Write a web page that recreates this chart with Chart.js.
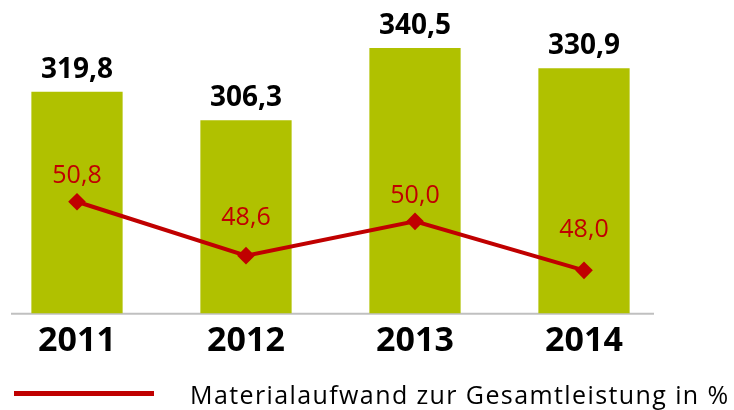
<!DOCTYPE html>
<html>
<head>
<meta charset="utf-8">
<script src="https://cdn.jsdelivr.net/npm/chart.js@4"></script>
<style>
  body { margin: 0; background: #fff; font-family: "Open Sans", sans-serif; }
  #wrap { position: relative; width: 734px; height: 410px; }
  #legend { position: absolute; left: 14px; top: 377px; height: 34px; display: flex; align-items: center; }
  #legend .swatch { width: 140px; height: 5px; background: #c00000; margin-right: 36px; margin-top: -1px; }
  #legend .text { font-size: 25px; letter-spacing: 1.4px; color: #000; white-space: nowrap; }
</style>
</head>
<body>
<div id="wrap">
  <canvas id="chart" width="734" height="410"></canvas>
  <div id="legend"><div class="swatch"></div><div class="text" id="legendText"></div></div>
</div>
<script>
// data
var years = ["2011", "2012", "2013", "2014"];
var umsatz = [319.8, 306.3, 340.5, 330.9];
var materialQuote = [50.8, 48.6, 50.0, 48.0];
var lineLabel = "Materialaufwand zur Gesamtleistung in %";

document.getElementById("legendText").textContent = lineLabel;

function fmt(v) {
  return v.toFixed(1).replace(".", ",");
}

// grey base line, wider than the plot area
var baseLine = {
  id: "baseLine",
  beforeDatasetsDraw: function (chart) {
    var ctx = chart.ctx;
    var y = chart.chartArea.bottom + 0.5;
    ctx.save();
    ctx.strokeStyle = "#c0c0c0";
    ctx.lineWidth = 2;
    ctx.beginPath();
    ctx.moveTo(11, y);
    ctx.lineTo(654, y);
    ctx.stroke();
    ctx.restore();
  },
};

// value labels above bars and points
var valueLabels = {
  id: "valueLabels",
  afterDatasetsDraw: function (chart) {
    var ctx = chart.ctx;
    ctx.save();
    ctx.textAlign = "center";
    ctx.textBaseline = "alphabetic";

    var bars = chart.getDatasetMeta(1).data;
    ctx.font = "bold 28px 'Open Sans'";
    ctx.fillStyle = "#000";
    bars.forEach(function (bar, i) {
      ctx.fillText(fmt(umsatz[i]), bar.x, bar.y - 14);
    });

    var pts = chart.getDatasetMeta(0).data;
    var offs = [19, 31, 18, 33];
    ctx.font = "25px 'Open Sans'";
    ctx.fillStyle = "#c00000";
    pts.forEach(function (p, i) {
      ctx.fillText(fmt(materialQuote[i]), p.x, p.y - offs[i]);
    });
    ctx.restore();
  },
};

var ctx = document.getElementById("chart").getContext("2d");
var chart = new Chart(ctx, {
  data: {
    labels: years,
    datasets: [
      {
        type: "line",
        label: lineLabel,
        data: materialQuote,
        yAxisID: "y2",
        borderColor: "#c00000",
        backgroundColor: "#c00000",
        borderWidth: 4,
        pointStyle: "rectRot",
        pointRadius: 6,
        pointBackgroundColor: "#c00000",
        pointBorderColor: "#c00000",
        tension: 0,
        clip: false,
        order: 0,
      },
      {
        type: "bar",
        label: "Gesamtleistung",
        data: umsatz,
        yAxisID: "y",
        base: 215,
        backgroundColor: "#b0c100",
        barPercentage: 1,
        categoryPercentage: 0.54,
        clip: false,
        order: 1,
      },
    ],
  },
  options: {
    responsive: false,
    animation: false,
    layout: {
      padding: { left: 77, right: 150, top: 10, bottom: 40 },
    },
    plugins: {
      legend: { display: false },
      tooltip: { enabled: false },
    },
    scales: {
      x: {
        offset: false,
        grid: { display: false, drawTicks: false },
        border: { display: false },
        ticks: {
          color: "#000",
          padding: 8,
          font: { family: "Open Sans", size: 34, weight: "bold" },
        },
      },
      y: {
        display: false,
        min: 215,
        max: 358.5,
      },
      y2: {
        display: false,
        min: 46.25,
        max: 58.63,
      },
    },
  },
  plugins: [baseLine, valueLabels],
});
</script>
</body>
</html>
